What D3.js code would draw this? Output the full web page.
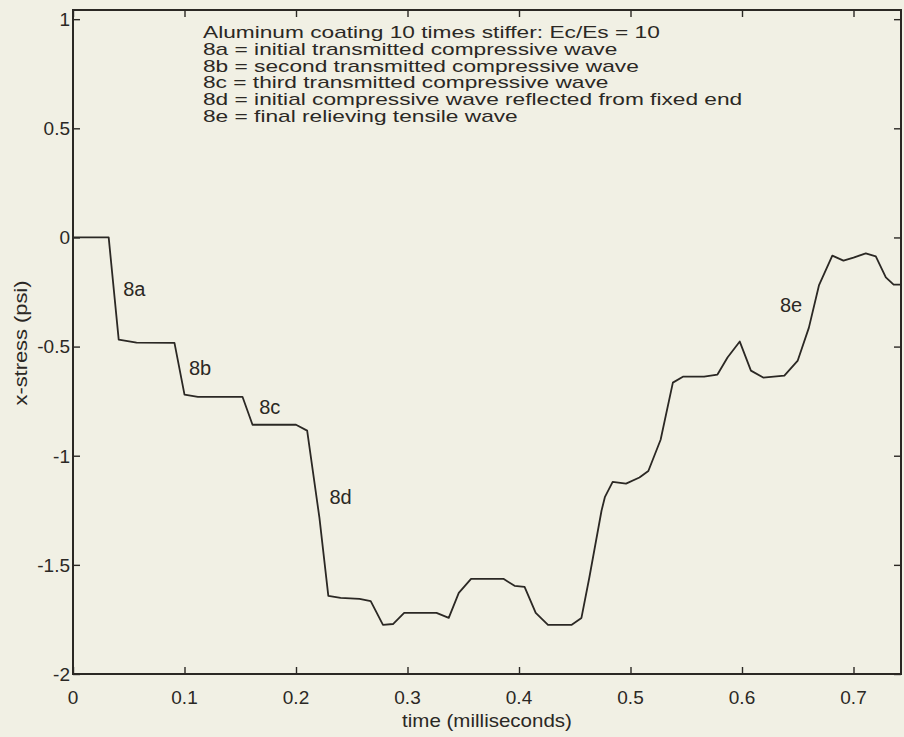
<!DOCTYPE html>
<html><head><meta charset="utf-8">
<script src="https://cdn.jsdelivr.net/npm/d3@7"></script>
<style>
html,body{margin:0;padding:0;background:#f1f0e4;}
svg{display:block;}
text{font-family:"Liberation Sans",Arial,sans-serif;fill:#2b2824;}
</style></head><body>
<svg id="c" width="904" height="737"></svg>
<script>
// ---- data ----
const time = [0,0.032,0.041,0.057,0.091,0.100,0.112,0.152,0.161,0.200,0.210,0.221,0.229,0.240,0.257,0.267,0.278,0.287,0.297,0.326,0.337,0.346,0.357,0.386,0.396,0.405,0.415,0.426,0.447,0.456,0.463,0.474,0.477,0.484,0.496,0.508,0.516,0.527,0.538,0.547,0.566,0.578,0.587,0.598,0.608,0.619,0.638,0.650,0.660,0.669,0.681,0.691,0.700,0.711,0.720,0.729,0.736,0.743];
const stress = [0,0,-0.468,-0.482,-0.483,-0.72,-0.73,-0.73,-0.858,-0.858,-0.885,-1.284,-1.642,-1.651,-1.656,-1.666,-1.775,-1.771,-1.72,-1.72,-1.743,-1.628,-1.564,-1.564,-1.596,-1.601,-1.72,-1.775,-1.775,-1.743,-1.56,-1.252,-1.19,-1.12,-1.128,-1.10,-1.07,-0.927,-0.665,-0.638,-0.638,-0.628,-0.55,-0.477,-0.61,-0.642,-0.633,-0.564,-0.413,-0.22,-0.083,-0.106,-0.092,-0.073,-0.087,-0.183,-0.216,-0.216];
const xTicks = [0,0.1,0.2,0.3,0.4,0.5,0.6,0.7];
const xTickLabels = ["0","0.1","0.2","0.3","0.4","0.5","0.6","0.7"];
const yTicks = [1,0.5,0,-0.5,-1,-1.5,-2];
const yTickLabels = ["1","0.5","0","-0.5","-1","-1.5","-2"];
const waveLabels = ["8a","8b","8c","8d","8e"];
const waveLabelT = [0.045,0.104,0.167,0.230,0.634];
const waveLabelY = [-0.27,-0.63,-0.81,-1.22,-0.34];
const noteLines = [
 "Aluminum coating 10 times stiffer: Ec/Es = 10",
 "8a = initial transmitted compressive wave",
 "8b = second transmitted compressive wave",
 "8c = third transmitted compressive wave",
 "8d = initial compressive wave reflected from fixed end",
 "8e = final relieving tensile wave"
];
const xTitle = "time (milliseconds)";
const yTitle = "x-stress (psi)";

// ---- drawing ----
const svg = d3.select("#c");
const ink = "#2b2824";
const x = d3.scaleLinear().domain([0,0.7426]).range([73,901]);
const y = d3.scaleLinear().domain([-2,1.042]).range([674,10]);

// frame
svg.append("rect").attr("x",x(0)).attr("y",y(1.042)).attr("width",x(0.7426)-x(0)).attr("height",y(-2)-y(1.042))
  .attr("fill","none").attr("stroke",ink).attr("stroke-width",2);

// axes with inward ticks
const gB = svg.append("g").attr("transform",`translate(0,${y(-2)})`)
  .call(d3.axisTop(x).tickValues(xTicks).tickSize(7).tickFormat(""));
const gT = svg.append("g").attr("transform",`translate(0,${y(1.042)})`)
  .call(d3.axisBottom(x).tickValues(xTicks).tickSize(7).tickFormat(""));
const gL = svg.append("g").attr("transform",`translate(${x(0)},0)`)
  .call(d3.axisRight(y).tickValues(yTicks).tickSize(7).tickFormat(""));
const gR = svg.append("g").attr("transform",`translate(${x(0.7426)},0)`)
  .call(d3.axisLeft(y).tickValues(yTicks).tickSize(7).tickFormat(""));
[gB,gT,gL,gR].forEach(g=>{g.select(".domain").remove();g.selectAll("line").attr("stroke",ink).attr("stroke-width",1.4);});

// tick labels
svg.append("g").selectAll("text").data(xTicks).join("text")
  .attr("x",d=>x(d)).attr("y",y(-2)+30).attr("text-anchor","middle")
  .attr("font-size",19).text((d,i)=>xTickLabels[i]);
svg.append("g").selectAll("text").data(yTicks).join("text")
  .attr("x",x(0)-3).attr("y",d=>y(d)).attr("dy","0.36em").attr("text-anchor","end")
  .attr("font-size",19).text((d,i)=>yTickLabels[i]);

// axis titles
svg.append("text").attr("transform",`translate(487,727) scale(1.14,1)`).attr("text-anchor","middle")
  .attr("font-size",18).text(xTitle);
svg.append("text").attr("transform",`translate(27,343) rotate(-90) scale(1.15,1)`).attr("text-anchor","middle")
  .attr("font-size",19).text(yTitle);

// curve
const pts = time.map((t,i)=>[t,stress[i]]);
svg.append("path").datum(pts)
  .attr("d",d3.line().x(d=>x(d[0])).y(d=>y(d[1])))
  .attr("fill","none").attr("stroke",ink).attr("stroke-width",1.8).attr("stroke-linejoin","round");

// wave labels
svg.append("g").selectAll("text").data(waveLabels).join("text")
  .attr("x",(d,i)=>x(waveLabelT[i])).attr("y",(d,i)=>y(waveLabelY[i]))
  .attr("font-size",20).text(d=>d);

// annotation block
const note = svg.append("g").attr("transform","translate(203,38) scale(1.42,1)");
note.selectAll("text").data(noteLines).join("text")
  .attr("x",0).attr("y",(d,i)=>i*16.8).attr("font-size",16).text(d=>d);
</script></body></html>
